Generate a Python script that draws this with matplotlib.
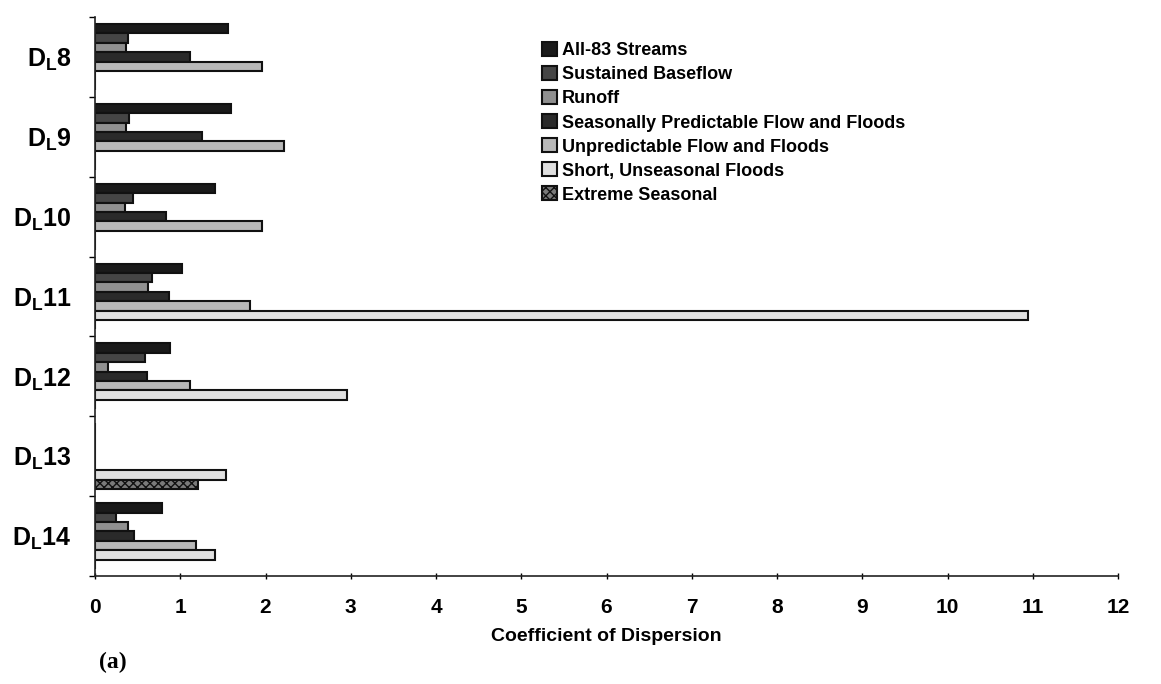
import matplotlib
matplotlib.use("Agg")
import matplotlib.pyplot as plt
import numpy as np

plt.rcParams['font.family'] = ['Liberation Sans', 'DejaVu Sans']
plt.rcParams['font.weight'] = 'bold'
plt.rcParams['mathtext.fontset'] = 'custom'
plt.rcParams['mathtext.rm'] = 'Liberation Sans:bold'
plt.rcParams['mathtext.it'] = 'Liberation Sans:bold'
plt.rcParams['mathtext.bf'] = 'Liberation Sans:bold'

categories = ["D$_\\mathrm{L}$8", "D$_\\mathrm{L}$9", "D$_\\mathrm{L}$10", "D$_\\mathrm{L}$11",
              "D$_\\mathrm{L}$12", "D$_\\mathrm{L}$13", "D$_\\mathrm{L}$14"]
series_names = ["All-83 Streams", "Sustained Baseflow", "Runoff",
                "Seasonally Predictable Flow and Floods", "Unpredictable Flow and Floods",
                "Short, Unseasonal Floods", "Extreme Seasonal"]
all83 = [1.56, 1.60, 1.41, 1.02, 0.88, 0.0, 0.79]
sustained = [0.39, 0.40, 0.45, 0.67, 0.59, 0.0, 0.25]
runoff = [0.36, 0.36, 0.35, 0.62, 0.15, 0.0, 0.39]
seasonal_pred = [1.12, 1.26, 0.83, 0.87, 0.61, 0.0, 0.46]
unpredictable = [1.96, 2.22, 1.96, 1.82, 1.12, 0.0, 1.19]
short_unseasonal = [0.0, 0.0, 0.0, 10.95, 2.96, 1.54, 1.41]
extreme = [0.0, 0.0, 0.0, 0.0, 0.0, 1.21, 0.0]
xticks = list(range(0, 13))

series = [all83, sustained, runoff, seasonal_pred, unpredictable, short_unseasonal, extreme]
colors = ["#1a1a1a", "#454545", "#909090", "#2a2a2a", "#b8b8b8", "#e0e0e0", "#7a7a7a"]
hatches = [None, None, None, None, None, None, "xxxx"]

fig = plt.figure(figsize=(11.61, 6.84), dpi=100)
ax = fig.add_axes([95/1161, 1-576/684, (1118-95)/1161, (576-17)/684])

w = 1/8.5
y = np.arange(len(categories))
for i, (vals, col, hat, name) in enumerate(zip(series, colors, hatches, series_names)):
    ax.barh(y + (i-3)*w, vals, height=w, color=col, edgecolor="#111111",
            linewidth=1.5, hatch=hat, label=name)

ax.set_ylim(len(categories)-0.5, -0.5)
ax.set_xlim(0, 12)
ax.set_yticks(np.arange(len(categories)+1)-0.5, minor=False)
ax.set_yticklabels([])
ax.set_yticks(y, minor=True)
ax.set_yticklabels(categories, minor=True, fontsize=18, fontweight='bold')
ax.tick_params(axis='y', which='minor', length=0, pad=17)
ax.tick_params(axis='y', which='major', length=4, direction='out', width=1)
ax.set_xticks(xticks)
ax.set_xticklabels([str(t) for t in xticks], fontsize=15, fontweight='bold')
ax.tick_params(axis='x', length=4, direction='inout', pad=14, width=1)
ax.set_xlabel("Coefficient of Dispersion", fontsize=14, fontweight='bold', labelpad=8)

for s in ['top', 'right']:
    ax.spines[s].set_visible(False)
for s in ['left', 'bottom']:
    ax.spines[s].set_linewidth(1.2)
    ax.spines[s].set_color("#222222")

leg = ax.legend(loc='upper left', bbox_to_anchor=(440/1023, 1-18/559), frameon=False,
                fontsize=13, handlelength=0.8, handleheight=0.8, handletextpad=0.3,
                labelspacing=0.38, borderaxespad=0)
for t in leg.get_texts():
    t.set_fontweight('bold')

fig.text(99/1161, 1-662/684, "(a)", fontsize=17, fontweight='bold',
         family='Liberation Serif', va='center', ha='left')

fig.savefig("out.png", dpi=100, facecolor='white')
